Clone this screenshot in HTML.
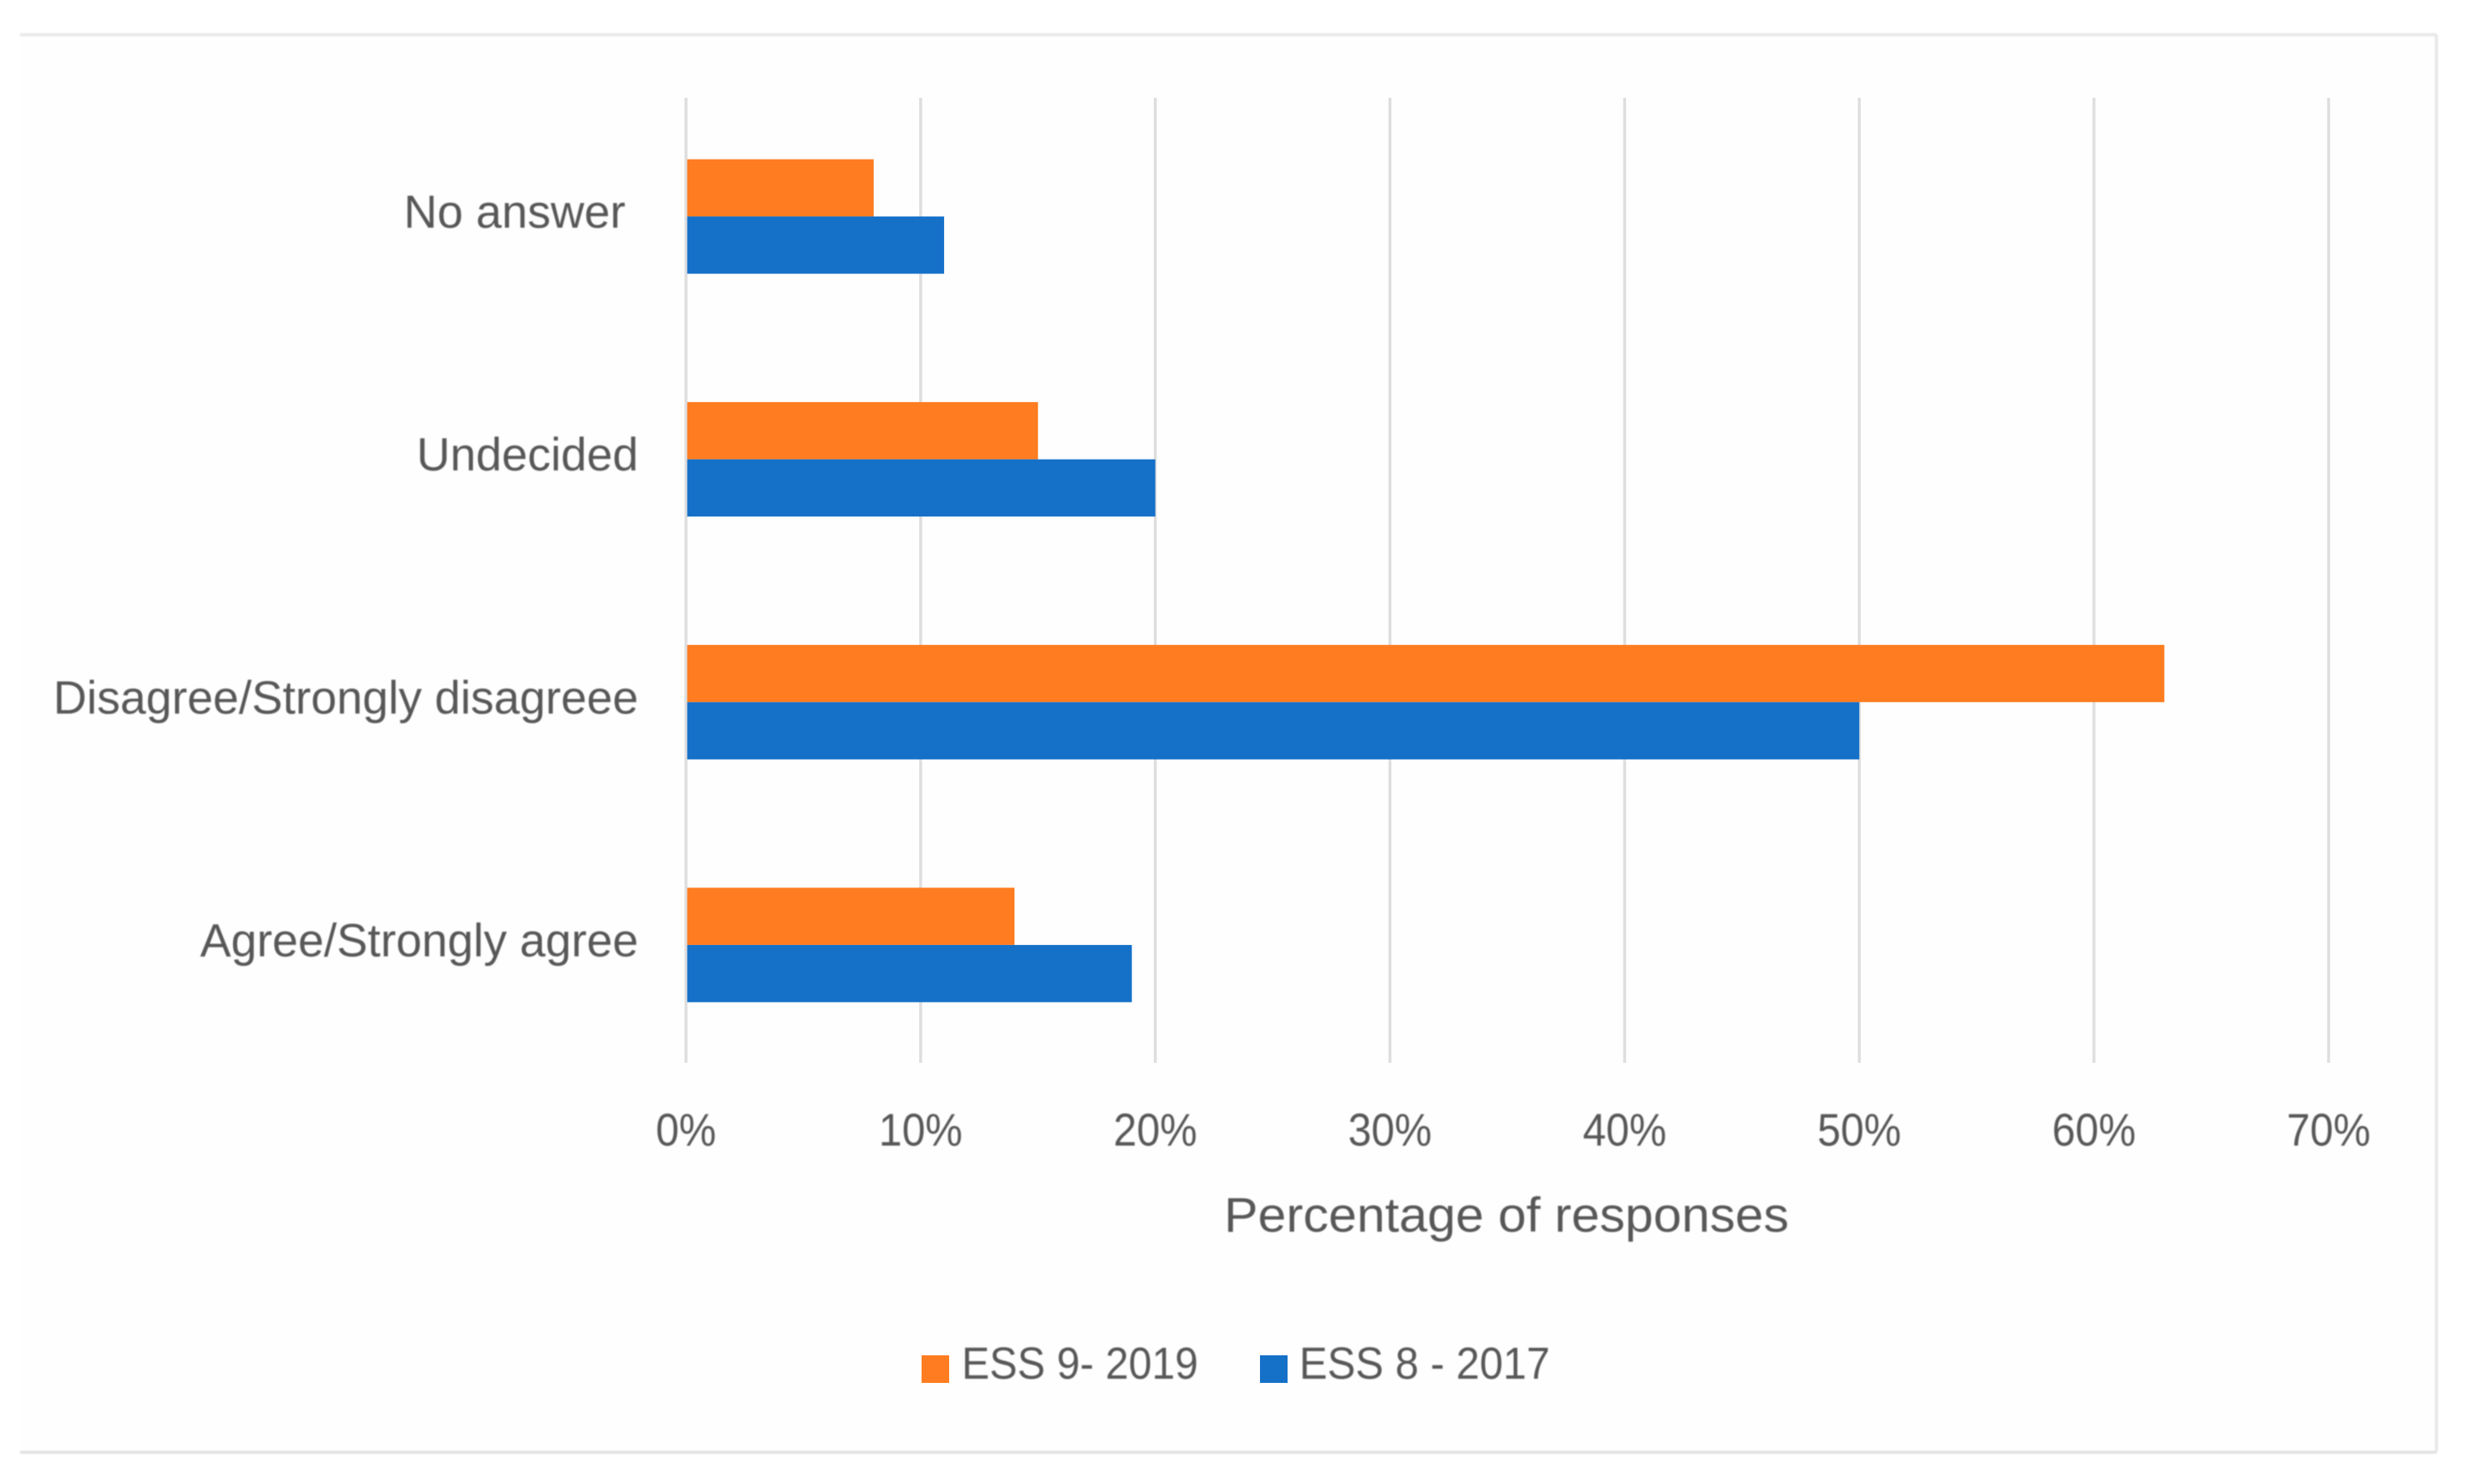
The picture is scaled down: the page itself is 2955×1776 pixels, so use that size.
<!DOCTYPE html>
<html lang="en">
<head>
<meta charset="utf-8">
<title>Percentage of responses by ESS round</title>
<style>
  html, body { margin: 0; padding: 0; background: #ffffff; }
  body { width: 2955px; height: 1776px; overflow: hidden; }
  svg { display: block; }
  text { font-family: "Liberation Sans", sans-serif; fill: #575757; white-space: pre; }
  .soft { filter: blur(0.9px); }
</style>
</head>
<body>
<svg id="chart" width="2955" height="1776" viewBox="0 0 2955 1776" xmlns="http://www.w3.org/2000/svg">
  <rect x="24" y="42" width="2892" height="1696" fill="#fefefe"></rect>
  <g class="soft" stroke-width="3.5" fill="none">
    <line x1="24" y1="41.5" x2="2916" y2="41.5" stroke="#e8e8e8"></line>
    <line x1="2916" y1="41.5" x2="2916" y2="1738" stroke="#e6e6e6"></line>
    <line x1="24" y1="1738" x2="2916" y2="1738" stroke="#e2e2e2"></line>
  </g>
  <g id="grid"></g>
  <g id="bars"></g>
  <g id="cat-labels" class="soft"></g>
  <g id="tick-labels" class="soft"></g>
  <text class="soft" x="1465" y="1474" font-size="58" textLength="676" lengthAdjust="spacingAndGlyphs">Percentage of responses</text>
  <g id="legend">
    <g>
      <rect x="1103" y="1622" width="33" height="33" fill="#ff7c20"></rect>
      <text class="soft" x="1151" y="1650" font-size="54" textLength="283" lengthAdjust="spacingAndGlyphs">ESS 9- 2019</text>
    </g>
    <g>
      <rect x="1508" y="1622" width="33" height="33" fill="#1570c8"></rect>
      <text class="soft" x="1555" y="1650" font-size="54" textLength="300" lengthAdjust="spacingAndGlyphs">ESS 8 - 2017</text>
    </g>
  </g>
</svg>
<script>
const categories = ["No answer ", "Undecided", "Disagree/Strongly disagreee", "Agree/Strongly agree"];
const ess9Values = [8, 15, 63, 14];
const ess8Values = [11, 20, 50, 19];
const tickValues = [0, 10, 20, 30, 40, 50, 60, 70];

const NS = "http://www.w3.org/2000/svg";
const plotLeft = 821, plotRight = 2787, plotTop = 117, plotBottom = 1272;
const bandTop = 113.8, bandHeight = 290.6, barHeight = 68.5;
const xMax = tickValues[tickValues.length - 1];

function xScale(v) {
  return plotLeft + (v / xMax) * (plotRight - plotLeft);
}
function bandCenter(i) {
  return bandTop + bandHeight * (i + 0.5);
}
function make(tag, attrs, parent) {
  const el = document.createElementNS(NS, tag);
  for (const k in attrs) el.setAttribute(k, attrs[k]);
  parent.appendChild(el);
  return el;
}

const gridG = document.getElementById("grid");
const tickG = document.getElementById("tick-labels");
tickValues.forEach(function (t) {
  const line = make("line", { x1: xScale(t), x2: xScale(t), y1: plotTop, y2: plotBottom, stroke: "#dedede", "stroke-width": 3.5 }, gridG);
  
  
  const label = make("text", { x: xScale(t), y: 1371, "font-size": 55, "text-anchor": "middle" }, tickG);
  label.textContent = t + "%";
  
  
  label.setAttribute("textLength", (label.getComputedTextLength() * 0.91).toFixed(1));
  label.setAttribute("lengthAdjust", "spacingAndGlyphs");
});

const barsG = document.getElementById("bars");
const catG = document.getElementById("cat-labels");
categories.forEach(function (c, i) {
  const mid = bandCenter(i);
  const orange = make("rect", { x: xScale(0) + 1.5, y: mid - barHeight, width: xScale(ess9Values[i]) - xScale(0) - 1.5, height: barHeight, fill: "#ff7c20" }, barsG);
  
  
  const blue = make("rect", { x: xScale(0) + 1.5, y: mid, width: xScale(ess8Values[i]) - xScale(0) - 1.5, height: barHeight, fill: "#1570c8" }, barsG);
  
  
  const label = make("text", { x: 764, y: mid + 13.5, "font-size": 55.5, "text-anchor": "end" }, catG);
  label.textContent = c;
  
  
});
</script>
</body>
</html>
